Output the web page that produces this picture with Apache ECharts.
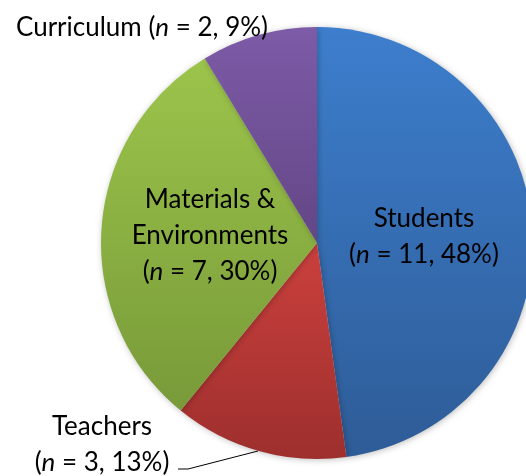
<!DOCTYPE html>
<html><head><meta charset="utf-8">
<script src="https://cdn.jsdelivr.net/npm/echarts@6/dist/echarts.min.js"></script>
<style>html,body{margin:0;padding:0;background:#fff}#c{width:526px;height:476px}</style>
</head><body><div id="c"></div>
<script>
const categories = ['Students', 'Teachers', 'Materials & Environments', 'Curriculum'];
const counts = [11, 3, 7, 2];
const percents = [48, 13, 30, 9];
const labelNames = ['Students', 'Teachers', 'Materials &\nEnvironments', 'Curriculum'];
const colorsTop = ['#3d7ecd', '#cb403d', '#9cc44b', '#7d5ba7'];
const colorsBottom = ['#2e5c97', '#9d2f2d', '#789a39', '#634686'];
// label placement (pixels) per slice
const labelPos = [[424, 237], [102, 445], [210, 236], [142, 28]];

function grad(i) {
  return new echarts.graphic.LinearGradient(0, 0, 0, 1, [
    {offset: 0, color: colorsTop[i]}, {offset: 1, color: colorsBottom[i]}
  ]);
}
function fmt(i) {
  const name = labelNames[i];
  const tail = '{t|(}{i|n}{t| = ' + counts[i] + ', ' + percents[i] + '%)}';
  if (i === 3) return '{t|' + name + ' }' + tail;
  return name.split('\n').map(s => '{t|' + s + '}').join('\n') + '\n' + tail;
}
const font = 'Lato';
const rich = {
  t: {fontFamily: font, fontSize: 26, color: '#000', lineHeight: 36},
  i: {fontFamily: font, fontSize: 26, color: '#000', lineHeight: 36, fontStyle: 'italic'}
};
const data = categories.map((c, i) => ({
  name: c, value: counts[i],
  itemStyle: {color: grad(i)},
  label: {formatter: fmt(i)},
  labelLine: {show: i === 1, lineStyle: {color: '#000', width: 1}}
}));
const chart = echarts.init(document.getElementById('c'), null, {renderer: 'canvas'});
chart.setOption({
  animation: false,
  series: [{
    type: 'pie',
    center: [317, 243],
    radius: 216,
    startAngle: 90,
    clockwise: true,
    avoidLabelOverlap: false,
    itemStyle: {shadowBlur: 6, shadowColor: 'rgba(0,0,0,0.25)', shadowOffsetX: 1, shadowOffsetY: 1},
    label: {show: true, position: 'outside', rich: rich, align: 'center'},
    labelLine: {show: false},
    labelLayout: function (p) {
      const i = p.dataIndex;
      const r = {x: labelPos[i][0], y: labelPos[i][1], align: 'center', verticalAlign: 'middle'};
      if (i === 1) r.labelLinePoints = [[178, 469], [188, 469], [258, 451]];
      return r;
    },
    data: data
  }]
});
</script></body></html>
